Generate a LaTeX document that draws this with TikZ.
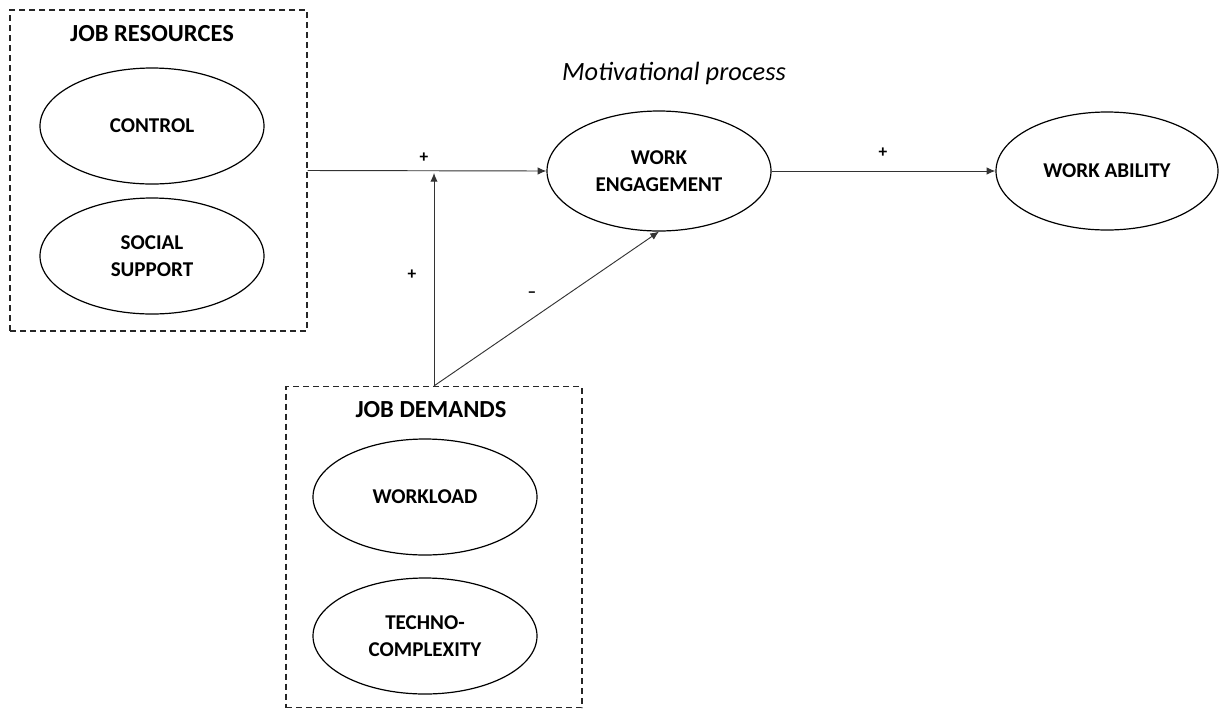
\documentclass[tikz,border=0pt]{standalone}
\usepackage{fontspec}
\setmainfont{Carlito}
\usetikzlibrary{shapes.geometric,arrows.meta}
\begin{document}
\begin{tikzpicture}[x=0.75pt,y=-0.75pt,
  oval/.style={ellipse,draw=black,line width=0.9pt,minimum width=168pt,minimum height=87pt,inner sep=0pt,font=\fontsize{15.8}{20.5}\selectfont\bfseries,align=center},
  groupbox/.style={draw=black!85,dashed,dash pattern=on 4.5pt off 3pt,line width=0.9pt,inner sep=0pt},
  title/.style={font=\fontsize{18.4}{22}\selectfont\bfseries},
  sign/.style={font=\fontsize{13}{15}\selectfont\bfseries},
  link/.style={draw=black!80,line width=0.7pt,-{Latex[length=6.5pt,width=5.5pt]}}]
\useasboundingbox (0,0) rectangle (1220,708);
% groups
\node[groupbox,minimum width=222.75pt,minimum height=240.75pt] (jr) at (158.5,170.5) {};
\node[title] (jrt) at (152,34) {JOB RESOURCES};
\node[oval] (ctrl) at (152,126) {CONTROL};
\node[oval] (soc) at (152,256) {SOCIAL\\SUPPORT};
\node[groupbox,minimum width=222pt,minimum height=240.75pt] (jd) at (434,547) {};
\node[title] (jdt) at (431,410) {JOB DEMANDS};
\node[oval] (wl) at (425,497) {WORKLOAD};
\node[oval] (tc) at (425,636) {TECHNO-\\COMPLEXITY};
% main nodes
\node[oval,minimum height=90pt] (we) at (659,171) {WORK\\ENGAGEMENT};
\node[oval,minimum width=166.5pt,minimum height=88.5pt] (wa) at (1107,171) {WORK ABILITY};
\node[font=\fontsize{19.8}{23}\selectfont\itshape] (mp) at (674,73) {Motivational process};
% connectors
\coordinate (mod) at (434,173);
\draw[link] (jr.east) -- (we.west);
\draw[link] (we.east) -- (wa.west);
\draw[link] (jd.north) -- (mod);
\draw[link] (jd.north) -- (we.south);
% signs
\node[sign] (s1) at (424,158) {+};
\node[sign] (s2) at (883,153) {+};
\node[sign] (s3) at (412,275) {+};
\node[sign] (s4) at (532,295) {–};
\end{tikzpicture}
\end{document}
